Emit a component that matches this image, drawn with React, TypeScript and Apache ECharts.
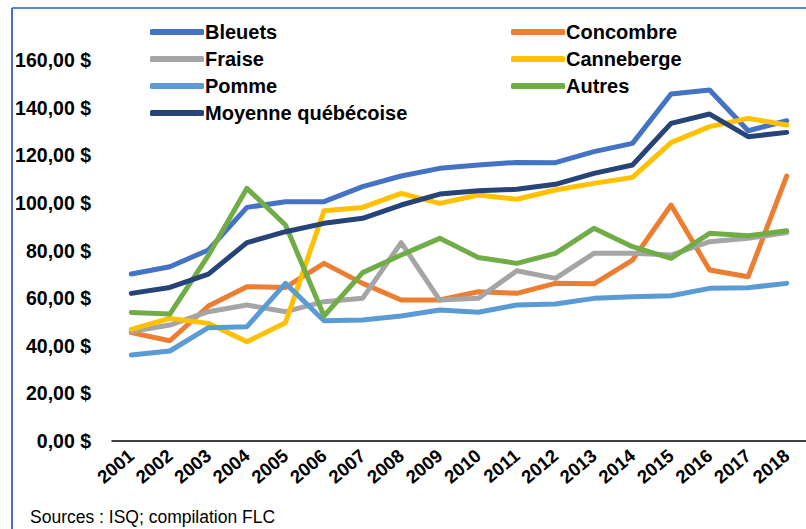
import React, { useEffect, useRef } from "react";
import * as echarts from "echarts";

const years = ["2001","2002","2003","2004","2005","2006","2007","2008","2009","2010","2011","2012","2013","2014","2015","2016","2017","2018"];
const bleuets = [70.1,73.2,80.2,98.1,100.5,100.5,106.8,111.3,114.5,115.9,117.0,116.9,121.5,125.0,145.7,147.4,130.3,134.5];
const concombre = [45.5,42.1,56.7,64.8,64.5,74.6,66.2,59.2,59.2,62.7,62.0,66.2,66.0,76.0,99.1,71.8,69.0,111.3];
const fraise = [46.0,48.7,54.3,57.1,54.3,58.5,59.9,83.3,59.2,59.9,71.5,68.3,78.8,78.8,78.1,83.7,85.1,87.5];
const canneberge = [46.9,51.5,49.4,41.7,49.7,96.7,98.1,104.0,99.8,103.3,101.5,105.4,108.2,110.7,125.3,132.0,135.5,132.7];
const pomme = [36.1,37.8,47.6,48.0,66.2,50.5,50.8,52.5,55.0,54.1,57.1,57.5,59.9,60.6,61.0,64.1,64.4,66.2];
const autres = [54.0,53.3,78.0,106.1,90.7,52.5,70.7,78.1,85.1,77.1,74.6,78.8,89.3,81.6,76.7,87.2,86.2,88.3];
const moyenne = [62.0,64.5,70.1,83.3,87.9,91.4,93.5,99.1,103.7,105.1,105.7,107.8,112.4,115.9,133.4,137.3,127.8,129.6];

const seriesDefs = [
  { name: "Bleuets", data: bleuets, color: "#4472C4" },
  { name: "Concombre", data: concombre, color: "#ED7D31" },
  { name: "Fraise", data: fraise, color: "#A5A5A5" },
  { name: "Canneberge", data: canneberge, color: "#FFC000" },
  { name: "Pomme", data: pomme, color: "#5B9BD5" },
  { name: "Autres", data: autres, color: "#70AD47" },
  { name: "Moyenne québécoise", data: moyenne, color: "#264478" },
];

const FONT = "'Liberation Sans', Arial, sans-serif";

export default function App() {
  const ref = useRef<HTMLDivElement>(null);
  useEffect(() => {
    if (!ref.current) return;
    const chart = echarts.init(ref.current, null, { renderer: "svg" });
    const legendItem = (names: string[], left: number) => ({
      data: names,
      left,
      top: 17,
      orient: "vertical" as const,
      itemWidth: 54,
      itemHeight: 6,
      itemGap: 7,
      icon: "roundRect",
      textStyle: {
        fontFamily: FONT,
        fontWeight: "bold",
        fontSize: 20,
        lineHeight: 20,
        color: "#000",
        padding: [0, 0, 0, -4],
      },
    });
    chart.setOption({
      animation: false,
      backgroundColor: "#fff",
      legend: [
        legendItem(["Bleuets", "Fraise", "Pomme", "Moyenne québécoise"], 145),
        legendItem(["Concombre", "Canneberge", "Autres"], 506),
      ],
      grid: { left: 112, right: -1, top: 60, bottom: 88, containLabel: false },
      xAxis: {
        type: "category",
        data: years,
        boundaryGap: true,
        axisLine: { show: true, lineStyle: { color: "#000", width: 1.5 } },
        axisTick: { show: false },
        axisLabel: {
          rotate: 40,
          margin: 12,
          fontFamily: FONT,
          fontWeight: "bold",
          fontSize: 18.5,
          color: "#000",
          interval: 0,
        },
      },
      yAxis: {
        type: "value",
        min: 0,
        max: 160,
        interval: 20,
        axisLine: { show: false },
        axisTick: { show: false },
        splitLine: { show: false },
        axisLabel: {
          margin: 21,
          fontFamily: FONT,
          fontWeight: "bold",
          fontSize: 19.5,
          color: "#000",
          formatter: (v: number) => v.toFixed(2).replace(".", ",") + " $",
        },
      },
      series: seriesDefs.map((s) => ({
        name: s.name,
        type: "line",
        data: s.data,
        showSymbol: false,
        symbol: "none",
        color: s.color,
        lineStyle: { width: 5, color: s.color, cap: "round", join: "round" },
      })),
      graphic: [
        { type: "line", shape: { x1: 12, y1: 8, x2: 806, y2: 8 }, style: { stroke: "#5B86D6", lineWidth: 2 } },
        { type: "line", shape: { x1: 12, y1: 8, x2: 12, y2: 529 }, style: { stroke: "#4472C4", lineWidth: 2 } },
        {
          type: "text",
          left: 30,
          top: 508,
          style: { text: "Sources : ISQ; compilation FLC", fontFamily: FONT, fontSize: 17.5, fill: "#000" },
        },
      ],
    });
    return () => chart.dispose();
  }, []);
  return <div ref={ref} style={{ position: "fixed", left: 0, top: 0, width: 806, height: 529 }} />;
}
